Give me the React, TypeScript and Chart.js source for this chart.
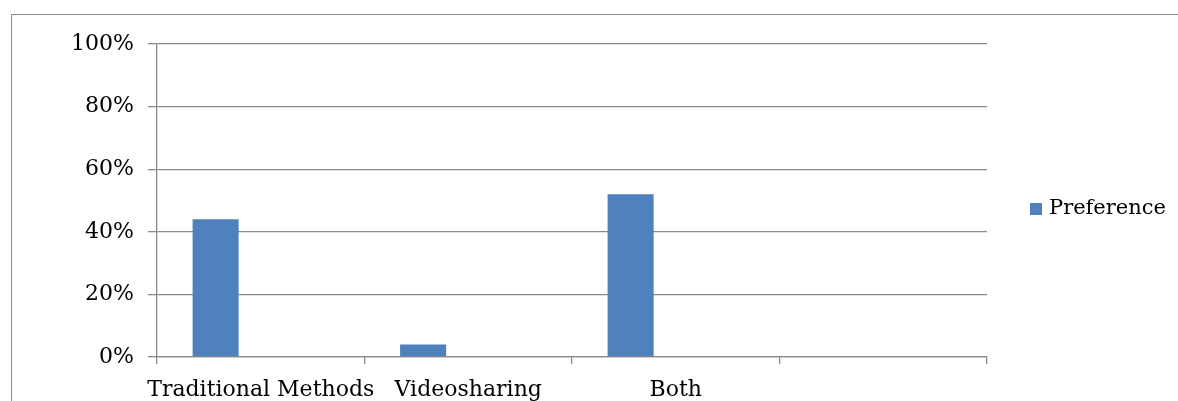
import React, { useEffect, useRef } from "react";
import { Chart, registerables } from "chart.js";

Chart.register(...registerables);

const categories = ["Traditional Methods", "Videosharing", "Both", ""];
const preferenceValues = [44, 4, 52, null];
const yTicks = [0, 20, 40, 60, 80, 100];
const seriesName = "Preference";

const W = 1178;
const H = 401;
const PLOT_LEFT = 157;
const PLOT_RIGHT = 987;
const PLOT_TOP = 44;
const PLOT_BOTTOM = 357;

export default function App() {
  const ref = useRef<HTMLCanvasElement | null>(null);

  useEffect(() => {
    if (!ref.current) return;
    const chart = new Chart(ref.current, {
      type: "bar",
      data: {
        labels: categories,
        datasets: [
          {
            label: seriesName,
            data: preferenceValues,
            backgroundColor: "#4F81BD",
            borderWidth: 0,
          },
          {
            label: "",
            data: categories.map(() => null),
            backgroundColor: "rgba(0,0,0,0)",
          },
        ],
      },
      options: {
        animation: false,
        responsive: false,
        maintainAspectRatio: false,
        layout: { padding: { top: PLOT_TOP, right: 0, left: 0, bottom: 0 } },
        datasets: { bar: { categoryPercentage: 0.87, barPercentage: 0.51 } },
        plugins: {
          legend: { display: false },
          tooltip: { enabled: false },
        },
        scales: {
          x: {
            grid: {
              offset: true,
              drawOnChartArea: false,
              color: "#8a8a8a",
              tickLength: 7,
              lineWidth: 1.3,
            },
            border: { color: "#8a8a8a", width: 1.3 },
            ticks: {
              color: "#000",
              font: { family: "'DejaVu Serif'", size: 22 },
              padding: 13,
              maxRotation: 0,
              autoSkip: false,
            },
            afterFit: (s: any) => {
              s.height = H - PLOT_BOTTOM;
            },
          },
          y: {
            min: 0,
            max: 100,
            afterBuildTicks: (s: any) => {
              s.ticks = yTicks.map((v) => ({ value: v }));
            },
            grid: { color: "#8a8a8a", tickLength: 9, lineWidth: 1.3 },
            border: { color: "#8a8a8a", width: 1.3 },
            ticks: {
              color: "#000",
              font: { family: "'DejaVu Serif'", size: 22 },
              padding: 14,
              callback: (v: any) => v + "%",
            },
            afterFit: (s: any) => {
              s.width = PLOT_LEFT;
            },
          },
        },
      },
      plugins: [
        {
          id: "rightPad",
          beforeLayout: (c: any) => {
            c.options.layout.padding.right = W - PLOT_RIGHT;
          },
        },
        {
          id: "customLegend",
          afterDraw: (c: any) => {
            const ctx = c.ctx;
            ctx.save();
            ctx.fillStyle = "#4F81BD";
            ctx.fillRect(1030, 203, 12, 12);
            ctx.fillStyle = "#000";
            ctx.font = "21px 'DejaVu Serif'";
            ctx.textBaseline = "middle";
            ctx.textAlign = "left";
            ctx.fillText(c.data.datasets[0].label, 1049, 209);
            ctx.restore();
          },
        },
      ],
    });
    return () => chart.destroy();
  }, []);

  return (
    <div
      style={{
        position: "fixed",
        left: 0,
        top: 0,
        width: W,
        height: H,
        overflow: "hidden",
        background: "#fff",
      }}
    >
      <div
        style={{
          position: "absolute",
          left: 11,
          top: 14,
          width: 2000,
          height: 1000,
          border: "1.5px solid #8a8a8a",
        }}
      />
      <canvas
        ref={ref}
        width={W}
        height={H}
        style={{ position: "absolute", left: 0, top: 0, width: W, height: H }}
      />
    </div>
  );
}
